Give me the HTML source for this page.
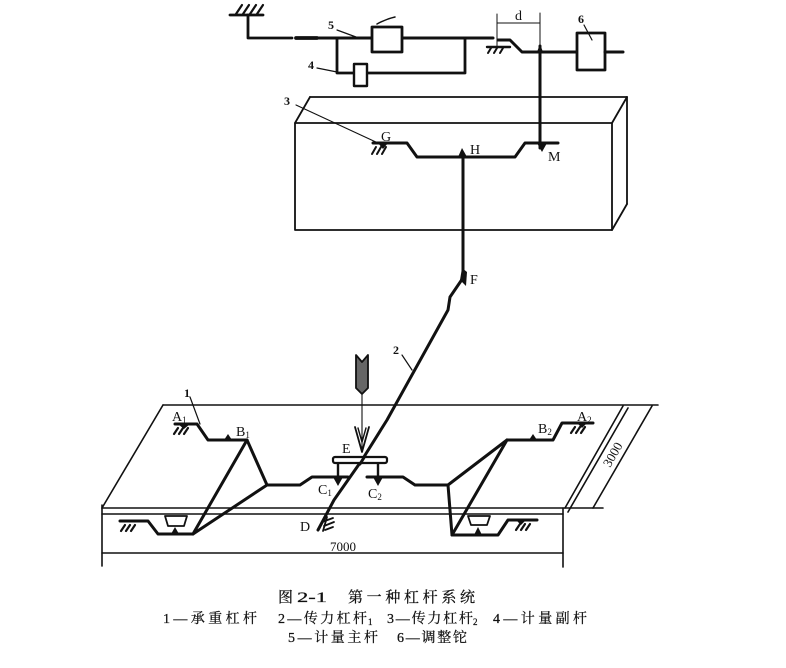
<!DOCTYPE html>
<html><head><meta charset="utf-8"><style>
html,body{margin:0;padding:0;background:#fff;}
svg{display:block;}
.t{font-family:"Liberation Serif","Noto Serif CJK SC",serif;fill:#111;}
.c{font-family:"Liberation Serif","Noto Serif CJK SC",serif;fill:#111;stroke:#111;stroke-width:0.25;}
</style></head><body>
<svg width="786" height="668" viewBox="0 0 786 668" xmlns="http://www.w3.org/2000/svg">
<g fill="none" stroke="#111" stroke-linecap="round" stroke-linejoin="round">
<!-- TOP: ground left -->
<line x1="230" y1="15" x2="263" y2="15" stroke-width="2.8"/>
<line x1="236" y1="14" x2="242" y2="5" stroke-width="2.2"/>
<line x1="243" y1="14" x2="249" y2="5" stroke-width="2.2"/>
<line x1="250" y1="14" x2="256" y2="5" stroke-width="2.2"/>
<line x1="257" y1="14" x2="263" y2="5" stroke-width="2.2"/>
<polyline points="248,15 248,38 292,38" stroke-width="2.8"/>
<line x1="296" y1="38" x2="317" y2="38" stroke-width="3.8"/>
<line x1="317" y1="38" x2="493" y2="38" stroke-width="3"/>
<!-- branch for 4 -->
<polyline points="337,38 337,73 465,73 465,38" stroke-width="2.8"/>
<!-- box 5 -->
<rect x="372" y="27" width="30" height="25" fill="#fff" stroke-width="2.8"/>
<path d="M377,24 Q386,19 395,17" stroke-width="1.5"/>
<line x1="337" y1="30" x2="356" y2="37" stroke-width="1.2"/>
<!-- box 4 -->
<rect x="354" y="64" width="13" height="22" fill="#fff" stroke-width="2.4"/>
<line x1="317" y1="68" x2="337" y2="72" stroke-width="1.2"/>
<!-- d dimension -->
<line x1="497" y1="14" x2="497" y2="48" stroke-width="1"/>
<line x1="540" y1="13" x2="540" y2="45" stroke-width="1"/>
<line x1="497" y1="23" x2="540" y2="23" stroke-width="1"/>
<!-- ground at d -->
<line x1="487" y1="47" x2="510" y2="47" stroke-width="2.4"/>
<line x1="491" y1="48" x2="488" y2="53" stroke-width="2"/>
<line x1="497" y1="48" x2="494" y2="53" stroke-width="2"/>
<line x1="503" y1="48" x2="500" y2="53" stroke-width="2"/>
<polyline points="498,40 510,40 522,52 577,52" stroke-width="3"/>
<line x1="540" y1="46" x2="540" y2="148" stroke-width="3"/>
<!-- box 6 -->
<rect x="577" y="33" width="28" height="37" fill="#fff" stroke-width="2.8"/>
<line x1="605" y1="52" x2="623" y2="52" stroke-width="3"/>
<line x1="584" y1="25" x2="592" y2="40" stroke-width="1.2"/>

<!-- MIDDLE BOX -->
<g stroke-width="1.8">
<rect x="295" y="123" width="317" height="107"/>
<line x1="310" y1="97" x2="627" y2="97"/>
<line x1="295" y1="123" x2="310" y2="97"/>
<line x1="612" y1="123" x2="627" y2="97"/>
<line x1="627" y1="97" x2="627" y2="204"/>
<line x1="612" y1="230" x2="627" y2="204"/>
</g>
<!-- lever 3 -->
<polyline points="373,143 407,143 417,157 515,157 525,143 558,143" stroke-width="3"/>
<line x1="376" y1="147" x2="372" y2="154" stroke-width="2"/>
<line x1="381" y1="147" x2="377" y2="154" stroke-width="2"/>
<line x1="386" y1="147" x2="382" y2="154" stroke-width="2"/>
<line x1="296" y1="105" x2="378" y2="143" stroke-width="1.1"/>
<line x1="463" y1="157" x2="463" y2="274" stroke-width="3"/>
<!-- lever 2 -->
<polyline points="465,275 450,297 448,310 387,420 362,460 334,500 318,530" stroke-width="3"/>
<line x1="402" y1="355" x2="412" y2="370" stroke-width="1.2"/>
<line x1="322" y1="522" x2="333" y2="518" stroke-width="1.8"/>
<line x1="324" y1="526" x2="334" y2="522" stroke-width="1.8"/>
<line x1="325" y1="530" x2="333" y2="527" stroke-width="1.8"/>
<line x1="327" y1="517" x2="323" y2="531" stroke-width="1.8"/>

<!-- load arrow -->
<polygon points="356,355 362,362 368,355 368,388 362,394 356,388" fill="#666" stroke-width="1.8"/>
<line x1="362" y1="394" x2="362" y2="450" stroke-width="1.1"/>
<polyline points="355,427 362,452 369,427" stroke-width="1.8"/>
<polyline points="358,428 362,442 366,428" stroke-width="1.4"/>

<!-- PLATFORM -->
<g stroke-width="1.6">
<line x1="163" y1="405" x2="658" y2="405"/>
<line x1="163" y1="405" x2="102" y2="508"/>
<line x1="102" y1="508" x2="603" y2="508"/>
<line x1="102" y1="514" x2="563" y2="514"/>
<line x1="102" y1="553" x2="563" y2="553"/>
<line x1="102" y1="505" x2="102" y2="566"/>
<line x1="563" y1="508" x2="563" y2="567"/>
<line x1="623" y1="406" x2="565" y2="508"/>
<line x1="628" y1="408" x2="568" y2="512"/>
<line x1="652" y1="406" x2="593" y2="508"/>
</g>
<!-- lever 1 left -->
<polyline points="175,424 197,424 208,440 247,440" stroke-width="3"/>
<polyline points="247,440 267,485 193,534 247,440" stroke-width="3"/>
<polyline points="267,485 300,485 312,477 348,477" stroke-width="3"/>
<polyline points="120,521 148,521 158,534 193,534" stroke-width="3"/>
<line x1="178" y1="428" x2="174" y2="434" stroke-width="2.2"/>
<line x1="183" y1="428" x2="179" y2="434" stroke-width="2.2"/>
<line x1="188" y1="428" x2="184" y2="434" stroke-width="2.2"/>
<line x1="190" y1="397" x2="200" y2="424" stroke-width="1.2"/>
<line x1="125" y1="525" x2="121" y2="531" stroke-width="2.2"/>
<line x1="130" y1="525" x2="126" y2="531" stroke-width="2.2"/>
<line x1="135" y1="525" x2="131" y2="531" stroke-width="2.2"/>
<polygon points="165,516 187,516 184,526 168,526" fill="#fff" stroke-width="1.8"/>
<!-- lever 1 right -->
<polyline points="593,423 562,423 553,440 507,440" stroke-width="3"/>
<polyline points="507,440 448,485 452,535 507,440" stroke-width="3"/>
<polyline points="367,477 403,477 415,485 448,485" stroke-width="3"/>
<polyline points="452,535 498,535 508,520 537,520" stroke-width="3"/>
<line x1="575" y1="427" x2="571" y2="433" stroke-width="2.2"/>
<line x1="580" y1="427" x2="576" y2="433" stroke-width="2.2"/>
<line x1="585" y1="427" x2="581" y2="433" stroke-width="2.2"/>
<line x1="520" y1="524" x2="516" y2="530" stroke-width="2.2"/>
<line x1="525" y1="524" x2="521" y2="530" stroke-width="2.2"/>
<line x1="530" y1="524" x2="526" y2="530" stroke-width="2.2"/>
<polygon points="468,516 490,516 487,525 471,525" fill="#fff" stroke-width="1.8"/>
<!-- E bar -->
<line x1="338" y1="462" x2="338" y2="477" stroke-width="2.4"/>
<line x1="378" y1="462" x2="378" y2="477" stroke-width="2.4"/>
<rect x="333" y="457" width="54" height="6" rx="2" fill="#fff" stroke-width="2.2"/>
<line x1="365" y1="456" x2="360" y2="464" stroke-width="3"/>
</g>
<!-- filled pivots -->
<g fill="#111" stroke="none">
<polygon points="537,52 543,52 540,44"/>
<polygon points="458,157 467,157 462,148"/>
<polygon points="537,143 547,143 542,152"/>
<polygon points="378,143 388,143 383,149"/>
<polygon points="462,268 467,272 466,286 460,280"/>
<polygon points="224,440 232,440 228,434"/>
<polygon points="529,440 537,440 533,434"/>
<polygon points="178,424 190,424 184,429"/>
<polygon points="577,423 587,423 582,428"/>
<polygon points="171,534 179,534 175,527"/>
<polygon points="474,535 482,535 478,527"/>
<polygon points="333,477 343,477 338,486"/>
<polygon points="373,477 383,477 378,486"/>
<polygon points="516,520 526,520 521,525"/>
</g>

<!-- labels -->
<g class="t" font-size="12" font-weight="bold">
<text x="328" y="29">5</text>
<text x="308" y="69">4</text>
<text x="578" y="23">6</text>
<text x="284" y="105">3</text>
<text x="184" y="397">1</text>
<text x="393" y="354">2</text>
</g>
<g class="t" font-size="14">
<text x="515" y="20">d</text>
<text x="381" y="141">G</text>
<text x="470" y="154">H</text>
<text x="548" y="161">M</text>
<text x="470" y="284">F</text>
<text x="172" y="421">A<tspan font-size="9" dy="2">1</tspan></text>
<text x="236" y="436">B<tspan font-size="9" dy="2">1</tspan></text>
<text x="538" y="433">B<tspan font-size="9" dy="2">2</tspan></text>
<text x="577" y="421">A<tspan font-size="9" dy="2">2</tspan></text>
<text x="342" y="453">E</text>
<text x="318" y="494">C<tspan font-size="9" dy="2">1</tspan></text>
<text x="368" y="498">C<tspan font-size="9" dy="2">2</tspan></text>
<text x="300" y="531">D</text>
<text x="330" y="551" font-size="13">7000</text>
<text x="0" y="0" font-size="13" transform="translate(610,468) rotate(-60)">3000</text>
</g>

<!-- caption -->
<g class="c" font-size="15">
<text x="278" y="602">图</text>
<text x="297" y="602" textLength="30" lengthAdjust="spacingAndGlyphs">2-1</text>
<text x="348" y="602" textLength="127" lengthAdjust="spacing">第一种杠杆系统</text>
</g>
<g class="c" font-size="14">
<text x="163" y="623" textLength="94" lengthAdjust="spacing">1—承重杠杆</text>
<text x="278" y="623" textLength="89" lengthAdjust="spacing">2—传力杠杆</text>
<text x="368" y="625" font-size="9">1</text>
<text x="387" y="623" textLength="86" lengthAdjust="spacing">3—传力杠杆</text>
<text x="473" y="625" font-size="9">2</text>
<text x="493" y="623" textLength="94" lengthAdjust="spacing">4—计量副杆</text>
<text x="288" y="642" textLength="90" lengthAdjust="spacing">5—计量主杆</text>
<text x="397" y="642" textLength="70" lengthAdjust="spacing">6—调整铊</text>
</g>
</svg>
</body></html>
